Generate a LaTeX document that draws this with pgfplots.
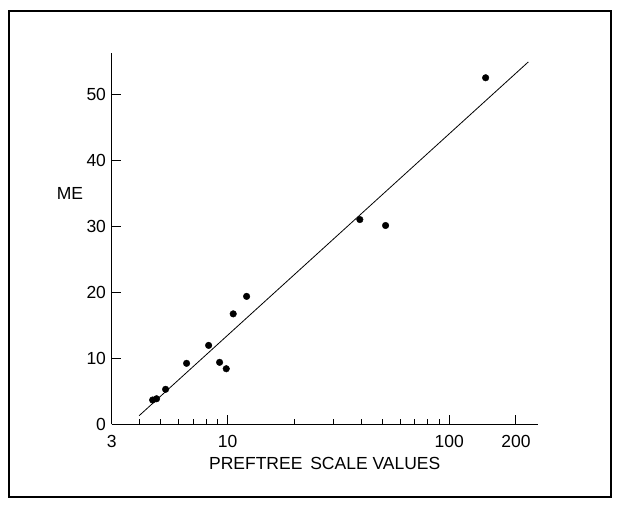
\documentclass[border=0pt]{standalone}
\usepackage{fontspec}
\setmainfont{Liberation Sans}
\usepackage{pgfplots}
\pgfplotsset{compat=1.18}
\newcommand\lbl{\fontsize{17.5}{21}\selectfont}
\begin{document}
\begin{tikzpicture}[x=1pt,y=1pt]
\useasboundingbox (0,0) rectangle (620,504);
% outer frame
\draw[line width=2pt] (9,7) rectangle (611,493);
\begin{axis}[
    at={(111.7pt,80pt)}, anchor=south west,
    scale only axis, width=426pt, height=371.3pt,
    xmode=log, xmin=3, xmax=250.6,
    ymin=0, ymax=56.3,
    axis x line*=bottom, axis y line*=left,
    axis line style={line width=1pt},
    xtick={3,10,100,200}, xticklabels={3,10,100,200},
    minor xtick={4,5,6,7,8,9,20,30,40,50,60,70,80,90},
    ytick={0,10,20,30,40,50}, yticklabels={0,10,20,30,40,50},
    tick align=inside,
    major tick length=9pt, minor tick length=5.3pt,
    tick style={black, line width=1pt},
    tick label style={font=\lbl},
    xticklabel style={yshift=-7.5pt},
    yticklabel style={xshift=-2.2pt},
    xlabel={PREFTREE\hspace{0.45em}SCALE VALUES},
    every axis x label/.style={at={(axis description cs:0.5,0)}, anchor=center, yshift=-39pt, font=\lbl},
    ylabel={ME},
    every axis y label/.style={at={(axis description cs:-0.0979,0.6195)}, anchor=center, font=\lbl},
    clip=false,
]
\addplot[only marks, mark=*, mark size=3.3pt, black] coordinates {
    (4.59,3.64)(4.78,3.83)(5.25,5.26)(6.53,9.2)(8.21,11.92)(9.20,9.35)
    (9.86,8.38)(10.6,16.7)(12.18,19.35)(39.5,31.0)(51.6,30.1)(145.9,52.5)
};
\addplot[black, line width=0.8pt] coordinates {(3.99,1.26)(227.3,54.9)};
\end{axis}
\end{tikzpicture}
\end{document}
